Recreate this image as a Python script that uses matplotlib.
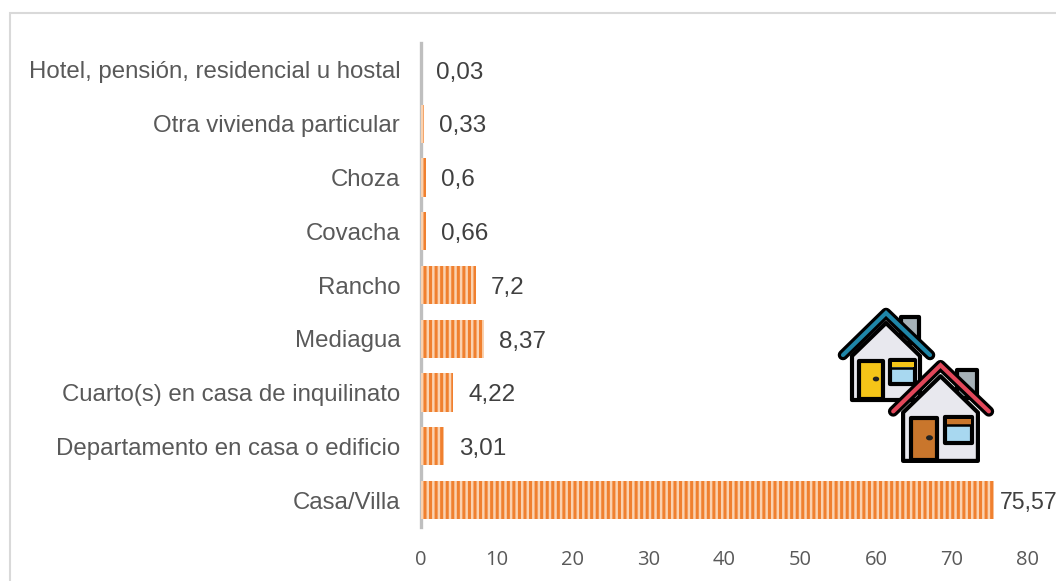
import matplotlib
matplotlib.use("Agg")
import matplotlib.pyplot as plt
from matplotlib.patches import Polygon, Rectangle, Ellipse

categories = ["Casa/Villa", "Departamento en casa o edificio", "Cuarto(s) en casa de inquilinato",
              "Mediagua", "Rancho", "Covacha", "Choza", "Otra vivienda particular",
              "Hotel, pensión, residencial u hostal"]
values = [75.57, 3.01, 4.22, 8.37, 7.2, 0.66, 0.6, 0.33, 0.03]
value_labels = ["75,57", "3,01", "4,22", "8,37", "7,2", "0,66", "0,6", "0,33", "0,03"]
x_ticks = [0, 10, 20, 30, 40, 50, 60, 70, 80]

W, H = 1056, 581
plt.rcParams["hatch.linewidth"] = 2.2
fig = plt.figure(figsize=(W / 100, H / 100), dpi=100, facecolor="white")

x0, px_per_unit = 421.0, 7.585
top, bottom = 43.0, 527.0
ax = fig.add_axes([x0 / W, 1 - bottom / H, (W - x0) / W, (bottom - top) / H])
ax.set_xlim(0, (W - x0) / px_per_unit)
ax.set_ylim(-0.5, len(values) - 0.5)
ax.barh(range(len(values)), values, height=0.71, color="#FAD2B0",
        edgecolor="#F0802F", linewidth=0, hatch="|||", zorder=3)

for s in ["top", "right", "bottom"]:
    ax.spines[s].set_visible(False)
ax.spines["left"].set_color("#BFBFBF")
ax.spines["left"].set_linewidth(2.4)
ax.spines["left"].set_zorder(2)

ax.set_yticks(range(len(values)))
ax.set_yticklabels(categories, family="Liberation Sans", fontsize=17.25, color="#595959")
ax.tick_params(axis="y", length=0, pad=15)
ax.set_xticks(x_ticks)
ax.set_xticklabels([str(t) for t in x_ticks], family="Open Sans", fontsize=14.5, color="#595959")
ax.tick_params(axis="x", length=0, pad=16.5)

for i, (v, lab) in enumerate(zip(values, value_labels)):
    off = 4.2 if i == 0 else 10.8
    size = 16.6 if i == 0 else 17.5
    ax.annotate(lab, (v, i), xytext=(off, -2), textcoords="offset points", va="center", ha="left",
                family="Liberation Sans", fontsize=size, color="#404040",
                annotation_clip=False)

# Overlay in pixel space: chart frame and the decorative houses
ov = fig.add_axes([0, 0, 1, 1], facecolor="none", zorder=5)
ov.set_xlim(0, W)
ov.set_ylim(H, 0)
ov.axis("off")
ov.plot([10, 10, W], [H, 13, 13], color="#D9D9D9", lw=1.5, solid_joinstyle="miter")


def house(ox, oy, s, roof, door, stripe, wall="#E8E8EE"):
    """Draw a house icon; all shape coordinates are local, 1 unit = s px."""
    k = dict(edgecolor="black", linewidth=3.0, joinstyle="round")
    def P(pts):
        return [(ox + a * s, oy + b * s) for a, b in pts]
    def R(x, y, w, h, **kw):
        ov.add_patch(Rectangle((ox + x * s, oy + y * s), w * s, h * s, **kw))
    R(60, 6, 18, 26, facecolor="#A6B2B8", **k)
    ov.add_patch(Polygon(P([(11, 45), (11, 89), (79, 89), (79, 45), (45, 12)]), closed=True, facecolor=wall, **k))
    R(18, 50, 24, 38, facecolor=door, **k)
    ov.add_patch(Ellipse((ox + 35 * s, oy + 68 * s), 5 * s, 3.4 * s, color="#222222"))
    R(49, 49, 25, 24, facecolor="#A8D8F0", **k)
    R(50.5, 51, 22, 5, facecolor=stripe, edgecolor="none")
    ov.plot([ox + 49 * s, ox + 74 * s], [oy + 56.5 * s] * 2, color="black", lw=1.8)
    xs, ys = zip(*P([(2, 44), (45, 2), (89, 44)]))
    ov.plot(xs, ys, color="black", lw=7.6, solid_capstyle="round", solid_joinstyle="round")
    ov.plot(xs, ys, color=roof, lw=3.0, solid_capstyle="round", solid_joinstyle="miter")


house(841, 311, 1.0, "#1F86A8", "#F5C518", "#F5C518")
house(891, 363, 1.1, "#E2475A", "#C9762C", "#C9762C")

fig.savefig("out.png", dpi=100, facecolor="white")
